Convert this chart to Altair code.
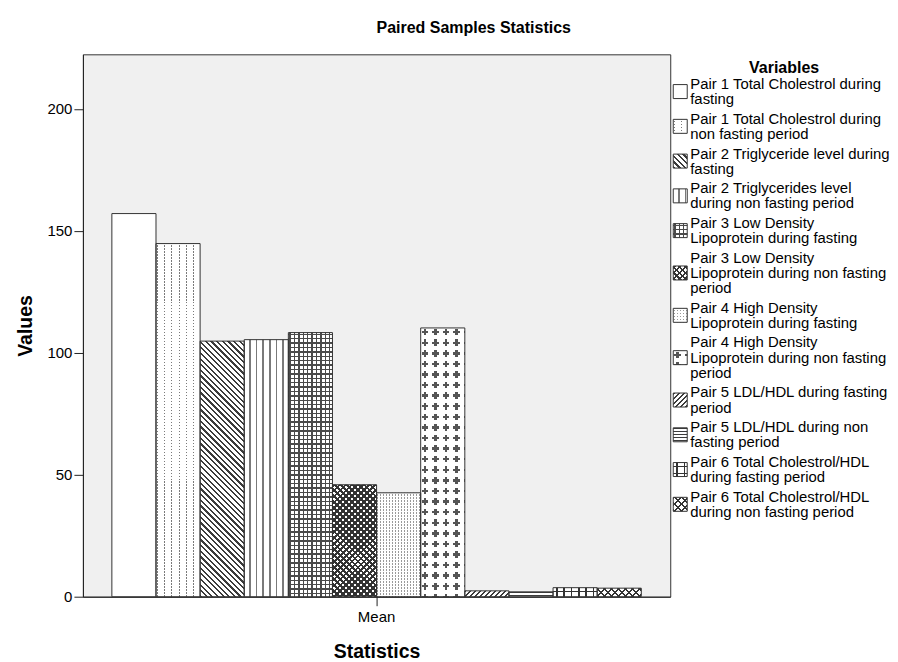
import math
import altair as alt
import pandas as pd

# ---------------- data ----------------
chart_title = "Paired Samples Statistics"
statistic = "Mean"
legend_title = "Variables"
variable_labels = [
    "Pair 1 Total Cholestrol during\nfasting",
    "Pair 1 Total Cholestrol during\nnon fasting period",
    "Pair 2 Triglyceride level during\nfasting",
    "Pair 2 Triglycerides level\nduring non fasting period",
    "Pair 3 Low  Density\nLipoprotein during fasting",
    "Pair 3 Low Density\nLipoprotein during non fasting\nperiod",
    "Pair 4 High Density\nLipoprotein during fasting",
    "Pair 4 High Density\nLipoprotein during non fasting\nperiod",
    "Pair 5 LDL/HDL during fasting\nperiod",
    "Pair 5 LDL/HDL during non\nfasting period",
    "Pair 6 Total Cholestrol/HDL\nduring fasting period",
    "Pair 6 Total Cholestrol/HDL\nduring non fasting period",
]
mean_values = [157.1, 144.8, 104.8, 105.4, 108.3, 45.9, 42.6, 110.2, 2.4, 2.0, 3.7, 3.5]
y_ticks = [0, 50, 100, 150, 200]
y_max = 222.4

# ---------------- layout / style ----------------
FONT = "Liberation Sans"
W, H = 588, 543
LW = 219
PAD_OUTER = 0.0547
PPU = H / y_max
BAR_W = W / (1 + 2 * PAD_OUTER) / len(mean_values)
SQ = 14
CLEAR = "rgba(0,0,0,0)"
OUTLINE = "#333333"

keys = [lab.replace("\n", " ") for lab in variable_labels]
df = pd.DataFrame({"stat": [statistic] * len(keys), "var": keys, "mean": mean_values})

# pattern definitions (kind, period px, line px, colour, background, phase)
patterns = [
    [("plain",)],
    [("v", 7.3, 1.2, "#7a7a7a", "white", 8.0), ("h", 3.0, 1.2, "white", CLEAR, 0.0)],
    [("bs", 4.0, 1.6, "#3c3c3c", "white", 0.0)],
    [("v", 6.67, 1.7, "#7a7a7a", "white", 4.7)],
    [("v", 4.4, 1.4, "#4a4a4a", "white", 1.0), ("h", 4.4, 1.4, "#4a4a4a", CLEAR, 1.0)],
    [("bs", 4.2, 2.0, "#333333", "white", 0.0), ("fs", 4.2, 2.0, "#333333", CLEAR, 0.0)],
    [("v", 3.0, 1.3, "#9a9a9a", "white", 0.5), ("h", 3.0, 1.5, "white", CLEAR, 0.0)],
    [("v", 10.6, 2.4, "#555555", "white", 3.0), ("h", 10.6, 2.4, "#555555", CLEAR, 3.0),
     ("v", 10.6, 4.0, "white", CLEAR, 7.5), ("h", 10.6, 4.0, "white", CLEAR, 7.5)],
    [("fs", 3.5, 1.5, "#3c3c3c", "white", 0.0)],
    [("h", 3.0, 1.0, "#3c3c3c", "white", 0.0)],
    [("v", 7.3, 1.6, "#333333", "white", 3.0), ("h", 7.3, 1.6, "#333333", CLEAR, 3.0)],
    [("bs", 5.0, 1.5, "#333333", "white", 0.0), ("fs", 5.0, 1.5, "#333333", CLEAR, 0.0)],
]

SQ2 = math.sqrt(2)


def stripe_stops(L, period, lw, color, bg, phase):
    segs = []
    s = phase - period * math.ceil((phase + lw) / period)
    while s < L:
        a, b = max(s, 0.0), min(s + lw, L)
        if b > a:
            segs.append((a, b))
        s += period
    stops = [(0.0, bg)]
    for a, b in segs:
        stops += [(a, bg), (a, color), (b, color), (b, bg)]
    stops.append((L, bg))
    return [{"offset": round(min(max(o / L, 0.0), 1.0), 5), "color": c} for o, c in stops]


def gradient(spec, w, h):
    kind, period, lw, color, bg, phase = spec
    if kind == "v":
        L, c = w, (0, 0, 1, 0)
    elif kind == "h":
        L, c = h, (0, 0, 0, 1)
    else:
        k = (w + h) / (w * w + h * h)
        L = w + h
        period, lw, phase = period * SQ2, lw * SQ2, phase * SQ2
        if kind == "bs":
            c = (0, 1, k * w, 1 - k * h)
        else:
            c = (0, 0, k * w, k * h)
    return {"gradient": "linear", "x1": c[0], "y1": c[1], "x2": c[2], "y2": c[3],
            "stops": stripe_stops(L, period, lw, color, bg, phase)}


def fill_for(spec, w, h):
    if spec[0] == "plain":
        return "white"
    return gradient(spec, w, h)


def bar_enc(ch):
    return ch.encode(
        x=alt.X("stat:N", title="Statistics",
                scale=alt.Scale(paddingInner=0, paddingOuter=PAD_OUTER),
                axis=alt.Axis(labelAngle=0, tickSize=9, labelPadding=4, titlePadding=18)),
        xOffset=alt.XOffset("var:N", scale=alt.Scale(domain=keys, paddingInner=0, paddingOuter=0)),
        y=alt.Y("mean:Q", title="Values",
                scale=alt.Scale(domain=[0, y_max], nice=False, zero=True),
                axis=alt.Axis(values=y_ticks, tickSize=9, labelPadding=2, titlePadding=11)),
    )


layers = []
for i, key in enumerate(keys):
    h = mean_values[i] * PPU
    for spec in patterns[i]:
        layers.append(bar_enc(
            alt.Chart(df).transform_filter(alt.FieldEqualPredicate(field="var", equal=key))
            .mark_bar(fill=fill_for(spec, BAR_W, h))
        ))
layers.append(bar_enc(alt.Chart(df).mark_bar(fillOpacity=0, stroke=OUTLINE, strokeWidth=1)))

main = alt.layer(*layers).properties(
    width=W, height=H,
    view=alt.ViewBackground(fill="#f0f0f0", stroke=OUTLINE, strokeWidth=1),
)

# ---------------- legend ----------------
LINE = 15.2
GAP = 19.6
first_base = 34.7
line_rows, sym_rows = [], []
y = first_base
for key, lab in zip(keys, variable_labels):
    parts = lab.split("\n")
    bases = []
    for p in parts:
        line_rows.append({"txt": p, "ypos": y})
        bases.append(y)
        y += LINE
    y += GAP - LINE
    sym_rows.append({"var": key, "ypos": sum(bases) / len(bases) - 5.0})
lines_df = pd.DataFrame(line_rows)
sym_df = pd.DataFrame(sym_rows)
title_df = pd.DataFrame({"txt": [legend_title], "ypos": [19.0]})

ysc = alt.Scale(domain=[0, H], reverse=True, nice=False, zero=False)

leg_layers = [
    alt.Chart(title_df).mark_text(font=FONT, fontSize=16, fontWeight="bold", align="center",
                                  baseline="alphabetic", color="black")
    .encode(text="txt:N", x=alt.value(113), y=alt.Y("ypos:Q", scale=ysc, axis=None)),
    alt.Chart(lines_df).mark_text(font=FONT, fontSize=14.9, align="left",
                                  baseline="alphabetic", color="black")
    .encode(text="txt:N", x=alt.value(19), y=alt.Y("ypos:Q", scale=ysc, axis=None)),
]
for i, key in enumerate(keys):
    for spec in patterns[i]:
        leg_layers.append(
            alt.Chart(sym_df).transform_filter(alt.FieldEqualPredicate(field="var", equal=key))
            .mark_square(size=SQ * SQ, fill=fill_for(spec, SQ, SQ), fillOpacity=1, opacity=1)
            .encode(x=alt.value(9), y=alt.Y("ypos:Q", scale=ysc, axis=None))
        )
leg_layers.append(
    alt.Chart(sym_df).mark_square(size=SQ * SQ, fillOpacity=0, stroke=OUTLINE, strokeWidth=1, opacity=1)
    .encode(x=alt.value(9), y=alt.Y("ypos:Q", scale=ysc, axis=None))
)
legend = alt.layer(*leg_layers).properties(width=LW, height=H)

chart = (
    alt.hconcat(main, legend, spacing=0)
    .properties(
        title=alt.TitleParams(chart_title, font=FONT, fontSize=16, fontWeight="bold",
                              anchor="middle", offset=18, dx=21, color="black"),
        padding={"left": 7, "top": 11, "right": 0, "bottom": 0},
        background="white",
    )
    .configure_view(strokeWidth=0)
    .configure_axis(
        labelFont=FONT, labelFontSize=15, labelColor="black",
        titleFont=FONT, titleFontSize=19.5, titleFontWeight="bold", titleColor="black",
        tickColor="#222222", domainColor="#222222", grid=False,
    )
)

chart.save("out.html", embed_options={"renderer": "svg", "actions": False})
